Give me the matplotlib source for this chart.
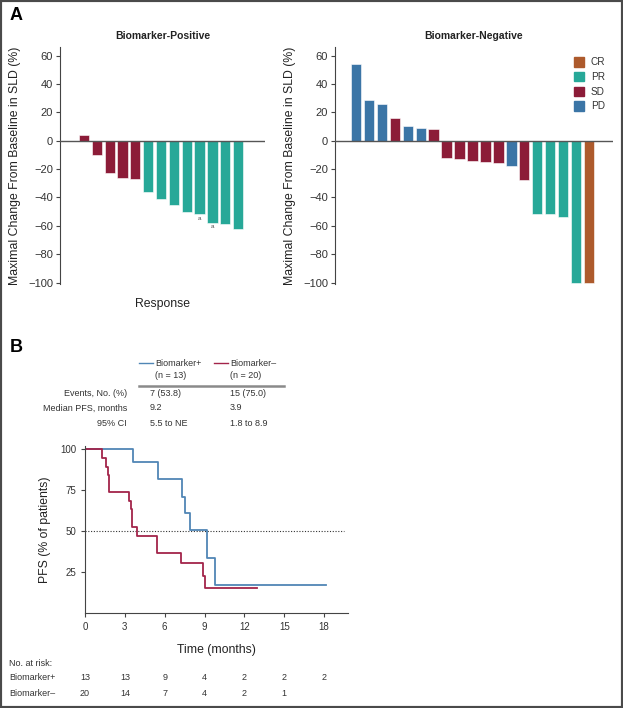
import matplotlib
matplotlib.use("Agg")
import matplotlib.pyplot as plt
from matplotlib.patches import Patch, Rectangle
from matplotlib.transforms import blended_transform_factory

plt.rcParams['font.family'] = ['Liberation Sans', 'DejaVu Sans']
LABEL_SIZE = 8.8

W, H = 623, 708

# ------------------------------
# Data
# ------------------------------
pos_values = [4, -10, -23, -26, -27, -36, -41, -45, -50, -52, -58, -59, -62]
pos_resp = ['SD'] * 5 + ['PR'] * 8
pos_marked = [9, 10]

neg_values = [54, 29, 26, 16, 10, 9, 8, -12, -13, -14, -15, -16, -18, -28,
              -52, -52, -54, -100, -100]
neg_resp = ['PD', 'PD', 'PD', 'SD', 'PD', 'PD', 'SD', 'SD', 'SD', 'SD', 'SD',
            'SD', 'PD', 'SD', 'PR', 'PR', 'PR', 'PR', 'CR']

resp_colors = {'CR': '#ad5a2c', 'PR': '#27a898', 'SD': '#8c1c38', 'PD': '#3b75a6'}

pos_t = [0, 3.6, 5.5, 7.3, 7.5, 7.9, 9.2, 9.8, 18.15]
pos_s = [100, 92, 81.5, 71, 61, 51, 34, 17, 17]
neg_t = [0, 1.3, 1.6, 1.7, 1.8, 3.3, 3.43, 3.53, 3.9, 5.4, 7.2, 8.9, 9.05, 12.95]
neg_s = [100, 94.5, 89.3, 84.2, 73.7, 68.4, 63.3, 52.7, 47.3, 36.7, 30.6, 23, 15.5, 15.5]

risk_times = [0, 3, 6, 9, 12, 15, 18]
risk_pos = [13, 13, 9, 4, 2, 2, 2]
risk_neg = [20, 14, 7, 4, 2, 1]

summary_rows = ['Events, No. (%)', 'Median PFS, months', '95% CI']
summary_pos = ['7 (53.8)', '9.2', '5.5 to NE']
summary_neg = ['15 (75.0)', '3.9', '1.8 to 8.9']

BLUE_LINE = '#5086b5'
RED_LINE = '#a3244a'


def px_axes(fig, left, top, right, bottom):
    return fig.add_axes([left / W, 1 - bottom / H, (right - left) / W, (bottom - top) / H])


def ftext(fig, x, y, s, **kw):
    return fig.text(x / W, 1 - y / H, s, **kw)


fig = plt.figure(figsize=(W / 100, H / 100), dpi=100)


def waterfall(ax, values, resp, xlim):
    x = list(range(len(values)))
    ax.bar(x, values, width=0.8, color=[resp_colors[r] for r in resp],
           edgecolor='white', linewidth=0.4, zorder=2)
    ax.axhline(0, color='#555555', lw=1.0, zorder=3)
    ax.set_xlim(*xlim)
    ax.set_ylim(-101, 66)
    ax.set_yticks(range(-100, 61, 20))
    ax.set_yticklabels([str(v).replace('-', '\u2212') for v in range(-100, 61, 20)])
    ax.set_xticks([])
    for s in ['top', 'right', 'bottom']:
        ax.spines[s].set_visible(False)
    ax.spines['left'].set_color('#444444')
    ax.tick_params(axis='y', labelsize=8, length=3, width=0.8, color='#444444',
                   labelcolor='#333333', pad=2)
    ax.set_ylabel('Maximal Change From Baseline in SLD (%)',
                  fontsize=LABEL_SIZE, color='#222222', labelpad=5)


# ------------------------------
# Panel A - waterfall plots
# ------------------------------
ax1 = px_axes(fig, 60, 47, 265, 284)
waterfall(ax1, pos_values, pos_resp, (-1.87, 14.1))
ax1.set_title('Biomarker-Positive', fontsize=7.5, fontweight='bold', color='#222222', pad=6)
for i in pos_marked:
    ax1.text(i, pos_values[i] - 2.5, 'a', fontsize=4.5, color='#555555', ha='center', va='center')
ax1.set_xlabel('Response', fontsize=LABEL_SIZE, color='#222222', labelpad=10)

ax2 = px_axes(fig, 335, 47, 613, 284)
waterfall(ax2, neg_values, neg_resp, (-1.62, 19.85))
ax2.set_title('Biomarker-Negative', fontsize=7.5, fontweight='bold', color='#222222', pad=6)
handles = [Patch(color=resp_colors[k], label=k) for k in ['CR', 'PR', 'SD', 'PD']]
ax2.legend(handles=handles, loc='upper right', bbox_to_anchor=(1.005, 0.995), frameon=False,
           fontsize=7.2, handlelength=1.0, handleheight=1.1, handletextpad=0.7,
           labelspacing=0.45, labelcolor='#333333')

ftext(fig, 10, 16, 'A', fontsize=13, fontweight='bold', va='center')
ftext(fig, 10, 348, 'B', fontsize=13, fontweight='bold', va='center')

# ------------------------------
# Panel B - summary table
# ------------------------------
fig.add_artist(plt.Line2D([139 / W, 153 / W], [1 - 363 / H] * 2, color=BLUE_LINE, lw=1))
fig.add_artist(plt.Line2D([214 / W, 228 / W], [1 - 363 / H] * 2, color=RED_LINE, lw=1))
ftext(fig, 155, 363, 'Biomarker+', fontsize=6.5, color='#333333', va='center')
ftext(fig, 155, 376, '(n = 13)', fontsize=6.5, color='#333333', va='center')
ftext(fig, 230, 363, 'Biomarker\u2013', fontsize=6.5, color='#333333', va='center')
ftext(fig, 230, 376, '(n = 20)', fontsize=6.5, color='#333333', va='center')
fig.add_artist(plt.Line2D([139 / W, 284 / W], [1 - 386 / H] * 2, color='#8a8a8a', lw=1.8))
for i, row in enumerate(summary_rows):
    y = 393 + 15 * i
    ftext(fig, 127, y, row, fontsize=6.5, color='#333333', va='center', ha='right')
    ftext(fig, 150, y, summary_pos[i], fontsize=6.5, color='#333333', va='center')
    ftext(fig, 230, y, summary_neg[i], fontsize=6.5, color='#333333', va='center')

# ------------------------------
# Panel B - Kaplan-Meier plot
# ------------------------------
ax3 = px_axes(fig, 85, 445.7, 348, 613.4)
ax3.plot([0, 19.5], [50, 50], linestyle=(0, (1, 1.5)), color='#333333', lw=0.8)
ax3.step(pos_t, pos_s, where='post', color=BLUE_LINE, lw=1.3)
ax3.step(neg_t, neg_s, where='post', color=RED_LINE, lw=1.3)
ax3.set_xlim(0, 19.8)
ax3.set_ylim(0, 102)
ax3.set_xticks(risk_times)
ax3.set_yticks([25, 50, 75, 100])
for s in ['top', 'right']:
    ax3.spines[s].set_visible(False)
for s in ['left', 'bottom']:
    ax3.spines[s].set_color('#444444')
ax3.tick_params(labelsize=7, length=3, width=0.8, color='#444444', labelcolor='#333333', pad=3)
ax3.set_ylabel('PFS (% of patients)', fontsize=LABEL_SIZE, color='#222222', labelpad=7)
ax3.set_xlabel('Time (months)', fontsize=LABEL_SIZE, color='#222222', labelpad=9)

# number at risk
tr = blended_transform_factory(ax3.transData, fig.transFigure)
ftext(fig, 9, 663, 'No. at risk:', fontsize=6.5, color='#333333', va='center')
ftext(fig, 9, 678, 'Biomarker+', fontsize=6.5, color='#333333', va='center')
ftext(fig, 9, 693, 'Biomarker\u2013', fontsize=6.5, color='#333333', va='center')
for t, n in zip(risk_times, risk_pos):
    fig.text(t, 1 - 678 / H, str(n), transform=tr, fontsize=6.5, color='#333333', ha='center', va='center')
for t, n in zip(risk_times, risk_neg):
    fig.text(t, 1 - 693 / H, str(n), transform=tr, fontsize=6.5, color='#333333', ha='center', va='center')

# frame round the figure
fig.patches.append(Rectangle((0, 0), 1, 1, transform=fig.transFigure, fill=False,
                             edgecolor='#4a4a4a', lw=3))

fig.savefig('out.png', dpi=100)
